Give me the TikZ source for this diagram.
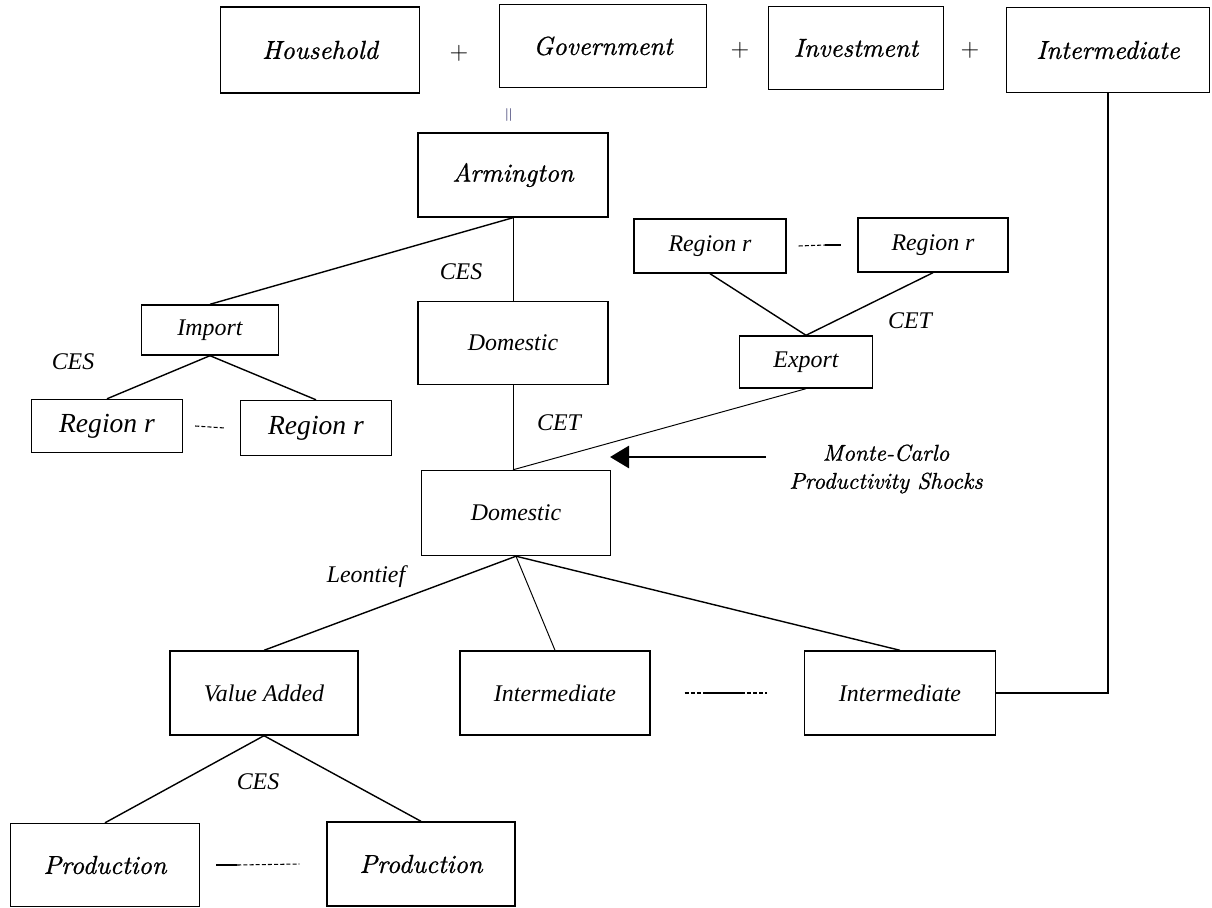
\documentclass[tikz,border=0pt]{standalone}
\usepackage{fontspec}
\newfontfamily\timesfont{Liberation Serif}
\newfontfamily\centfont{lmroman10-italic}[Extension=.otf, FakeBold=0.9]
\usepackage{tikz}
\usetikzlibrary{positioning}
\usetikzlibrary{arrows.meta}
\usetikzlibrary{calc}
\definecolor{eqcolor}{RGB}{70,70,120}
\tikzset{box node/.style 2 args={draw, line width=0.8pt, inner sep=0pt, minimum width=#1*0.02cm, minimum height=#2*0.02cm},
  big text/.style={font=\fontsize{14.8}{16}\selectfont\centfont},
  times text/.style={font=\fontsize{13.6}{15}\selectfont\timesfont\itshape},
  region text/.style={font=\fontsize{15.7}{17}\selectfont\timesfont\itshape},
  thin line/.style={line width=0.55pt},
  dots line/.style={dash pattern=on 2.3pt off 1.2pt, line width=0.6pt},
}

\begin{document}
\begin{tikzpicture}[x=0.02cm, y=-0.02cm, line width=0.8pt]
    \useasboundingbox (0,0) rectangle (1212,908);

    % final demand
    \node[box node={199}{86}, big text] (house) at (320,50) {Household};
    \node[box node={207}{83}, big text] (gov) at (603,46) {Government};
    \node[box node={175}{83}, big text] (inv) at (856,48) {Investment};
    \node[box node={203}{85}, big text] (topint) at (1108,50) {Intermediate};
    \node[font=\fontsize{14}{14}\selectfont] (plusA) at (459,53) {+};
    \node[font=\fontsize{14}{14}\selectfont] (plusB) at (740,50) {+};
    \node[font=\fontsize{14}{14}\selectfont] (plusC) at (970,50) {+};
    \node[rotate=90, text=eqcolor, font=\fontsize{10.5}{10.5}\selectfont] (eq) at (510,115) {$=$};

    % armington nest
    \node[box node={190}{84}, big text] (arm) at (513,175) {Armington};
    \node[box node={137}{50}, times text] (imp) at (210,330) {Import};
    \node[box node={190}{83}, times text] (dom) at (513,343) {Domestic};
    \node[box node={151}{53}, region text] (regA) at (107,426) {Region r};
    \node[box node={151}{55}, region text] (regB) at (316,428) {Region r};

    % export nest
    \node[box node={152}{54}, times text] (regC) at (710,246) {Region r};
    \node[box node={150}{54}, times text] (regD) at (933,245) {Region r};
    \node[box node={133}{52}, times text] (exp) at (806,362) {Export};

    % production nest
    \node[box node={189}{85}, times text] (prod) at (516,513) {Domestic};
    \node[box node={188}{84}, times text] (va) at (264,693) {Value Added};
    \node[box node={190}{84}, times text] (intA) at (555,693) {Intermediate};
    \node[box node={191}{84}, times text] (intB) at (900,693) {Intermediate};
    \node[box node={189}{83}, big text] (fac) at (105,865) {Production};
    \node[box node={188}{84}, big text] (facB) at (421,864) {Production};

    % elasticities
    \node[times text] (cesArm) at (461,272) {CES};
    \node[times text] (cesImp) at (73,362) {CES};
    \node[times text] (cetExp) at (910,321) {CET};
    \node[times text] (cetDom) at (559,423) {CET};
    \node[times text] (leon) at (366,577) {Leontief};
    \node[times text] (cesVa) at (258,782) {CES};

    % shocks
    \node[align=center, font=\fontsize{13}{16}\selectfont\centfont] (shock) at (886,469) {Monte-Carlo\\Productivity Shocks};
    \coordinate (tail) at (766,457);
    \coordinate (tip) at (610,457);
    \draw[line width=1.7pt, -{Triangle[length=0.38cm, width=0.44cm]}] (tail) -- (tip);

    \path[draw]
    (arm.south) edge (imp.north)
    (arm.south) edge [thin line] (dom.north)
    (imp.south) edge (regA.north)
    (imp.south) edge (regB.north)
    (regC.south) edge (exp.north)
    (regD.south) edge (exp.north)
    (dom.south) edge [thin line] (dom.south |- prod.north)
    (exp.south) edge [thin line] (dom.south |- prod.north)
    (prod.south) edge (va.north)
    (prod.south) edge [thin line] (intA.north)
    (prod.south) edge (intB.north)
    (va.south) edge (fac.north)
    (va.south) edge (facB.north);
    \draw (intB.east) -| (topint.south);

    % separators
    \draw[dots line] ([xshift=12*0.02cm]regA.east) -- ([xshift=-15*0.02cm]regB.west);
    \draw[dots line] ([xshift=12*0.02cm]regC.east) -- ([xshift=-32*0.02cm]regD.west);
    \draw[line width=0.6pt] ([xshift=-32*0.02cm]regD.west) -- ([xshift=-16*0.02cm]regD.west);
    \draw[dots line] ([xshift=34*0.02cm]intA.east) -- ([xshift=55*0.02cm]intA.east);
    \draw[line width=0.9pt] ([xshift=55*0.02cm]intA.east) -- ([xshift=-63*0.02cm]intB.west);
    \draw[dots line] ([xshift=-63*0.02cm]intB.west) -- ([xshift=-37*0.02cm]intB.west);
    \draw[line width=0.9pt] ([xshift=16*0.02cm]fac.east) -- ([xshift=37*0.02cm]fac.east);
    \draw[dots line] ([xshift=37*0.02cm]fac.east) -- ([xshift=-27*0.02cm]facB.west);
\end{tikzpicture}
\end{document}
